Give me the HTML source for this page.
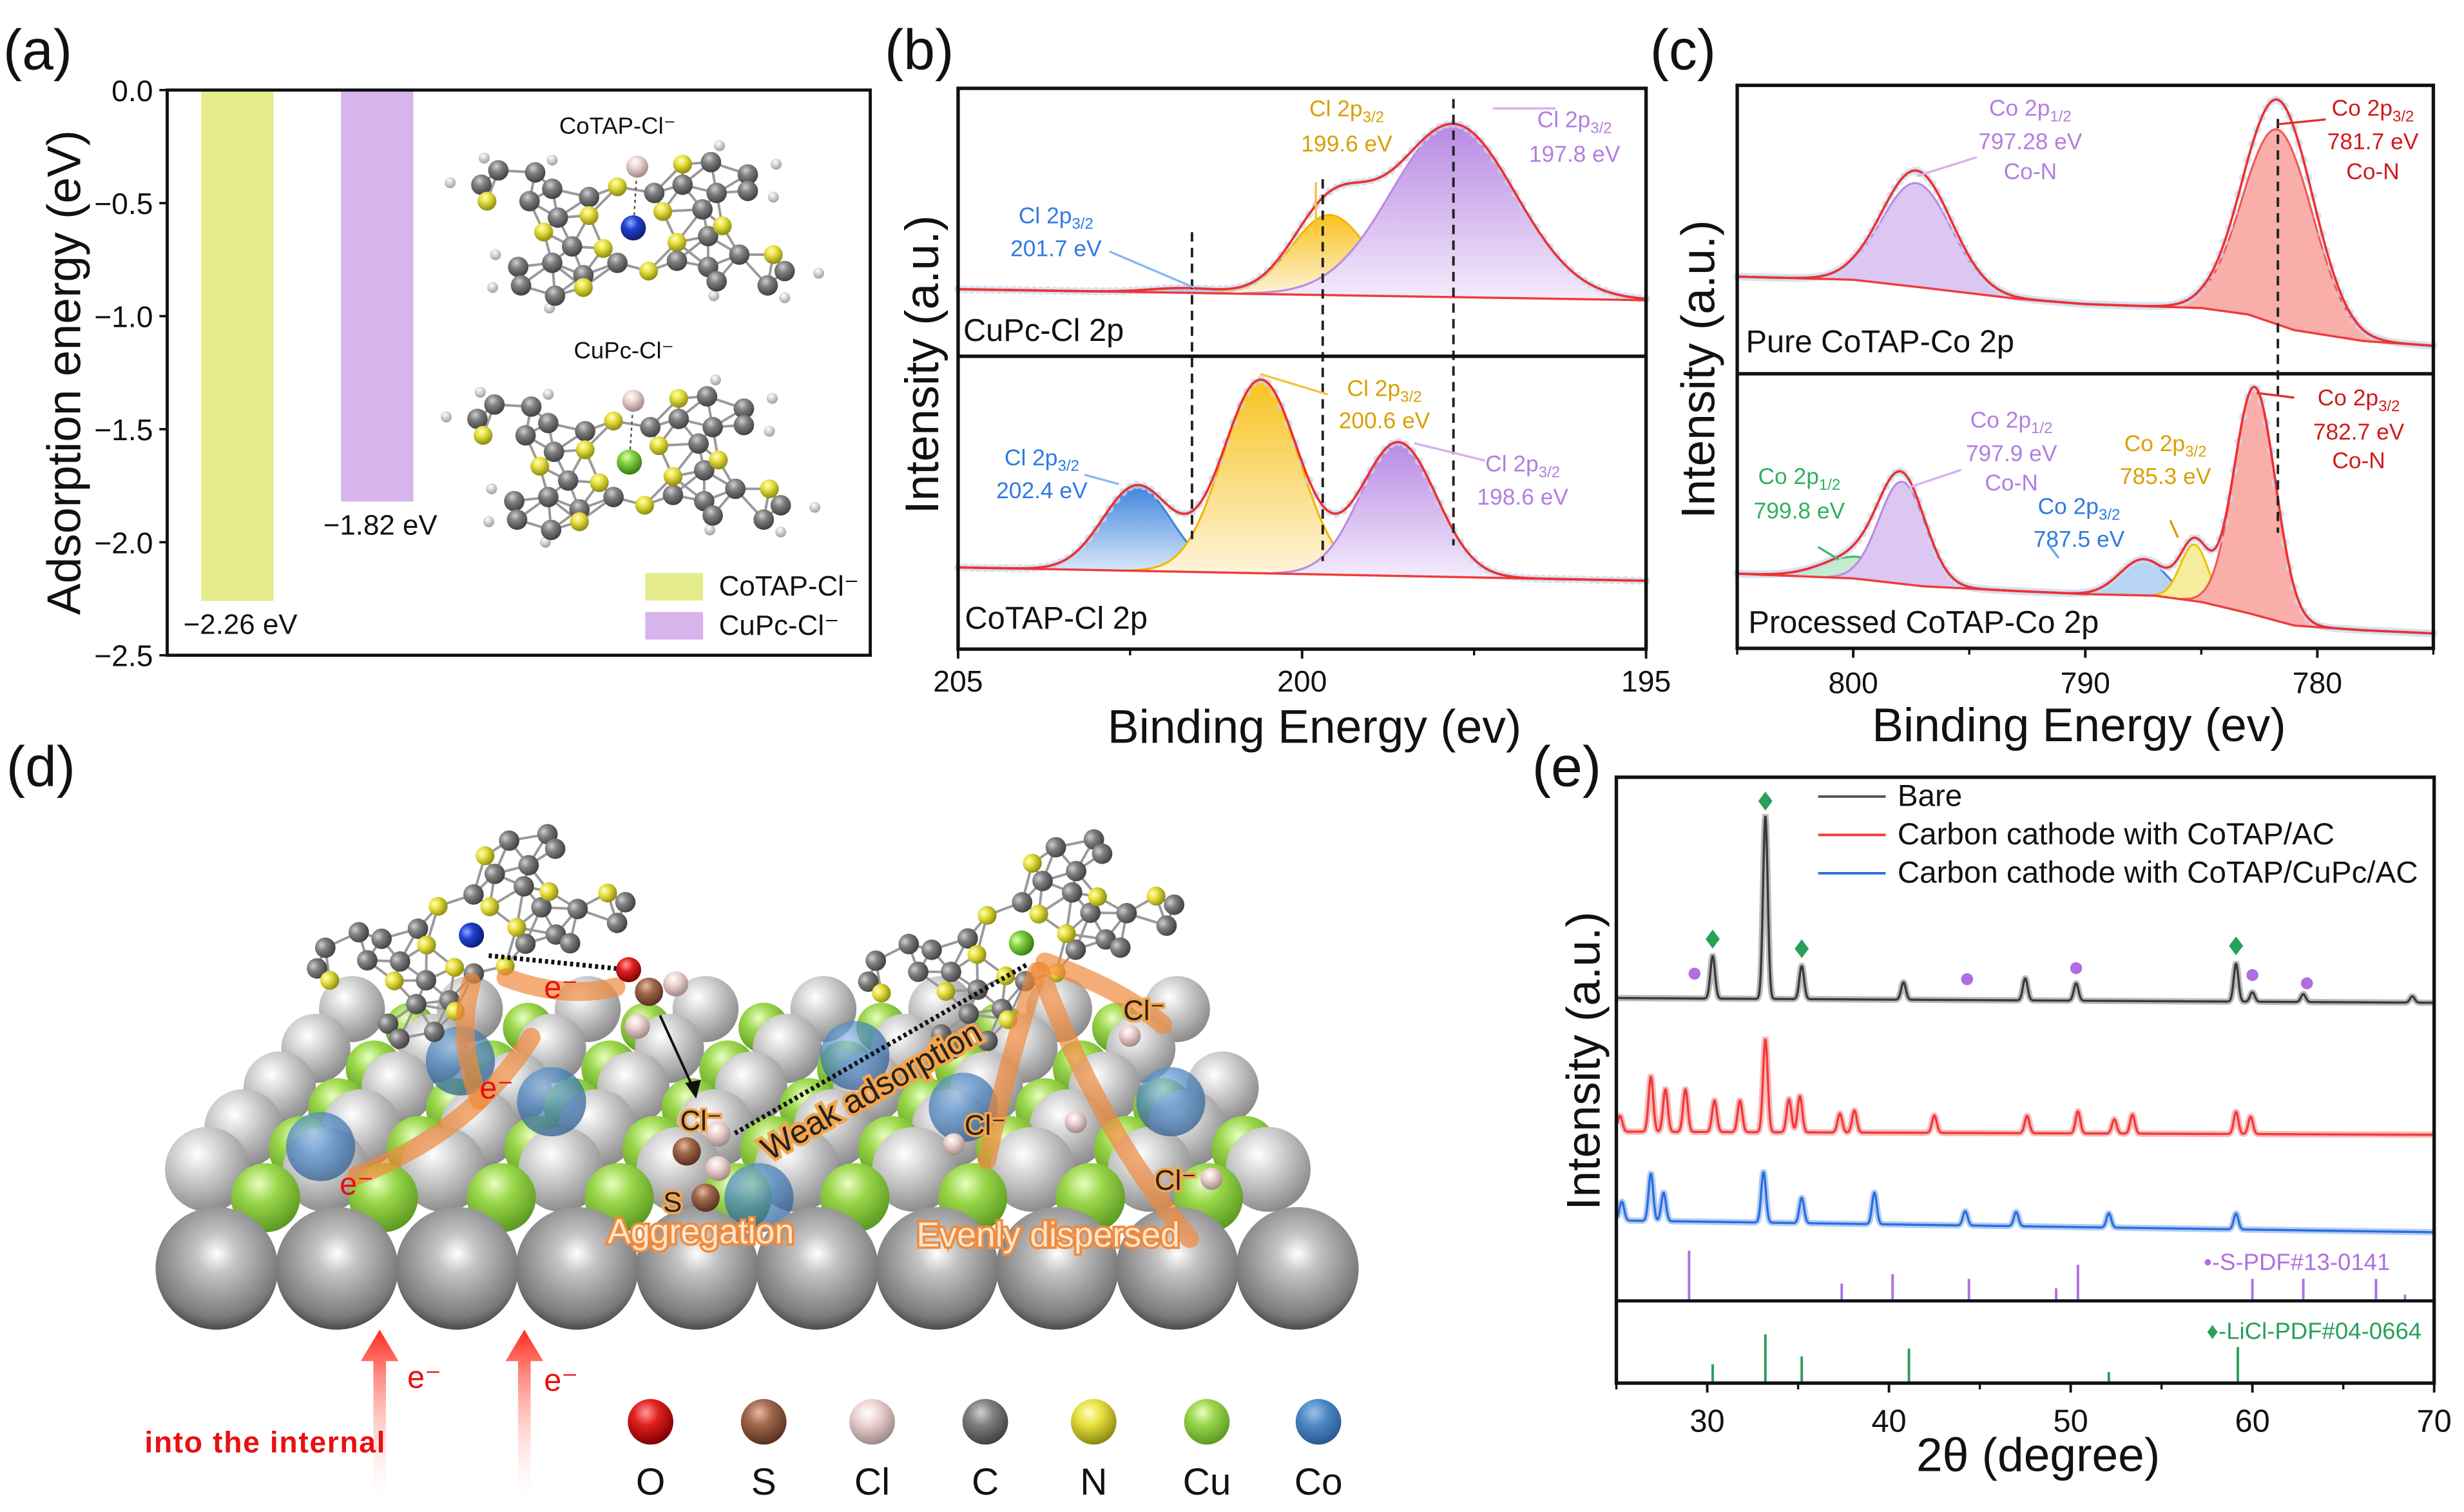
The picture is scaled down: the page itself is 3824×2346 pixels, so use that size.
<!DOCTYPE html>
<html><head><meta charset="utf-8">
<style>
html,body{margin:0;padding:0;background:#fff;}
svg{display:block;font-family:"Liberation Sans",Arial,sans-serif;}
</style></head>
<body>
<svg id="fig" xmlns="http://www.w3.org/2000/svg" width="3824" height="2346" viewBox="0 0 1568 962" preserveAspectRatio="none">
<defs>
<radialGradient id="sGray" cx="0.38" cy="0.32" r="0.7"><stop offset="0" stop-color="#ffffff"/><stop offset="0.35" stop-color="#d6d6d6"/><stop offset="1" stop-color="#8a8a8a"/></radialGradient>
<radialGradient id="sGrayBig" cx="0.5" cy="0.38" r="0.65"><stop offset="0" stop-color="#ffffff"/><stop offset="0.25" stop-color="#c4c4c4"/><stop offset="0.8" stop-color="#7a7a7a"/><stop offset="1" stop-color="#3c3c3c"/></radialGradient>
<radialGradient id="sGreen" cx="0.4" cy="0.3" r="0.7"><stop offset="0" stop-color="#e8ffc0"/><stop offset="0.4" stop-color="#9ad64a"/><stop offset="1" stop-color="#5c9a22"/></radialGradient>
<radialGradient id="sBlue" cx="0.4" cy="0.3" r="0.7"><stop offset="0" stop-color="#9cc3ea"/><stop offset="0.45" stop-color="#4a86c4"/><stop offset="1" stop-color="#2a5a90"/></radialGradient>
<radialGradient id="sRed" cx="0.4" cy="0.3" r="0.7"><stop offset="0" stop-color="#ff9a9a"/><stop offset="0.4" stop-color="#e02020"/><stop offset="1" stop-color="#800000"/></radialGradient>
<radialGradient id="sBrown" cx="0.4" cy="0.3" r="0.7"><stop offset="0" stop-color="#e8b8a0"/><stop offset="0.4" stop-color="#a0684c"/><stop offset="1" stop-color="#5a3020"/></radialGradient>
<radialGradient id="sPink" cx="0.4" cy="0.3" r="0.7"><stop offset="0" stop-color="#ffffff"/><stop offset="0.4" stop-color="#ecd2d0"/><stop offset="1" stop-color="#a08888"/></radialGradient>
<radialGradient id="sC" cx="0.4" cy="0.3" r="0.7"><stop offset="0" stop-color="#d0d0d0"/><stop offset="0.4" stop-color="#808080"/><stop offset="1" stop-color="#404040"/></radialGradient>
<radialGradient id="sYellow" cx="0.4" cy="0.3" r="0.7"><stop offset="0" stop-color="#ffffc0"/><stop offset="0.4" stop-color="#e8e040"/><stop offset="1" stop-color="#8a8a10"/></radialGradient>
<radialGradient id="sH" cx="0.4" cy="0.3" r="0.7"><stop offset="0" stop-color="#ffffff"/><stop offset="1" stop-color="#a0a0a0"/></radialGradient>
<radialGradient id="sCu" cx="0.4" cy="0.3" r="0.7"><stop offset="0" stop-color="#e0ffb0"/><stop offset="0.4" stop-color="#80d040"/><stop offset="1" stop-color="#3a7a10"/></radialGradient>
<radialGradient id="sCo" cx="0.4" cy="0.3" r="0.7"><stop offset="0" stop-color="#90a8ff"/><stop offset="0.4" stop-color="#2040d0"/><stop offset="1" stop-color="#101a70"/></radialGradient>
<linearGradient id="fPurple" x1="0" y1="0" x2="0" y2="1"><stop offset="0" stop-color="#b889e4"/><stop offset="1" stop-color="#f4ecfb"/></linearGradient>
<linearGradient id="fYellow" x1="0" y1="0" x2="0" y2="1"><stop offset="0" stop-color="#f8c320"/><stop offset="1" stop-color="#fff4dc"/></linearGradient>
<linearGradient id="fBlue" x1="0" y1="0" x2="0" y2="1"><stop offset="0" stop-color="#3f85dc"/><stop offset="1" stop-color="#dbe9fa"/></linearGradient>
<linearGradient id="redArrow" x1="0" y1="0" x2="0" y2="1"><stop offset="0" stop-color="#ff2a1a"/><stop offset="1" stop-color="#ffffff" stop-opacity="0"/></linearGradient>
</defs>
</svg>
<script>
const NS='http://www.w3.org/2000/svg';
const svg=document.getElementById('fig');
function mk(tag,attrs,parent){const e=document.createElementNS(NS,tag);for(const k in attrs)e.setAttribute(k,attrs[k]);(parent||svg).appendChild(e);return e;}
function txt(s,attrs,parent){const e=mk('text',attrs,parent);e.textContent=s;return e;}
function annot(x,y,main,sub,color,size,parent){
  const t=mk('text',{x:x,y:y,'font-size':size,fill:color,'text-anchor':'middle'},parent);
  const a=mk('tspan',{},t);a.textContent=main;
  if(sub){const b=mk('tspan',{'font-size':size*0.68,dy:size*0.25},t);b.textContent=sub;}
  return t;
}

/* ================= PANEL A DATA ================= */
const aCategories=['CoTAP-Cl⁻','CuPc-Cl⁻'];
const aValues=[-2.26,-1.82];
const aValueLabels=['−2.26 eV','−1.82 eV'];
const aTicks=[0,-0.5,-1,-1.5,-2,-2.5];
const aTickLabels=['0.0','−0.5','−1.0','−1.5','−2.0','−2.5'];
const aColors=['#e4ec8c','#d7b4ec'];

/* ================= PANEL B DATA ================= */
const bTicks=[205,200,195];
const bUpperCenters=[201.7,199.6,197.8];
const bUpperHeights=[3,51,110];
const bUpperWidths=[0.5,0.55,0.9];
const bUpperBaseline=[16,9];
const bLowerCenters=[202.4,200.6,198.6];
const bLowerHeights=[54,123,85];
const bLowerWidths=[0.5,0.55,0.55];
const bLowerBaseline=[19,10.5];

/* ================= PANEL C DATA ================= */
const cTicks=[800,790,780];
const cUpperBaseE=[805,800,797,793,790,785,783,781,778,775];
const cUpperBaseI=[54,52,47,40,36.5,34,30,20,13,10];
const cUpperCenters=[797.28,781.7];
const cUpperHeights=[66,124];
const cUpperFitHeights=[74,143];
const cUpperWidths=[1.5,1.5];
const cLowerBaseE=[805,800,797,793,790,787,785,783,781,778,775];
const cLowerBaseI=[45,42,37,34,32,31,27,20,12,9,7];
const cLowerCenters=[799.8,797.9,787.5,785.3,782.7];
const cLowerHeights=[14,65,23,36,145];
const cLowerWidths=[1.5,1.0,1.0,0.6,0.9];

/* ================= PANEL E DATA ================= */
const eTicks=[30,40,50,60,70];
const eLegend=['Bare','Carbon cathode with CoTAP/AC','Carbon cathode with CoTAP/CuPc/AC'];
const bareBaseline=[265,262];
const bareCenters=[30.3,33.2,35.2,40.8,47.5,50.3,59.1,60.0,62.8,68.8];
const bareHeights=[27,116,21,11,14,11,24,6,5,4];
const redBaseline=[180,178];
const redCenters=[25.2,26.9,27.7,28.8,30.4,31.8,33.2,34.5,35.1,37.3,38.1,42.5,47.6,50.4,52.4,53.4,59.1,59.9];
const redHeights=[10,35,27,27,20,20,59,21,23,12,14,11,11,14,9,12,14,11];
const blueBaseline=[123.5,116];
const blueCenters=[25.3,26.9,27.6,33.1,35.2,39.2,44.2,47.0,52.1,59.1];
const blueHeights=[12,30,18,32,16,20,9,9,9,10];
const sPdfPos=[29,37.4,40.2,44.4,49.2,50.4,60,62.8,66.8,68.4];
const sPdfHeights=[32,11,17,14,8,23,14,14,14,4];
const liclPos=[30.3,33.2,35.2,41.1,52.1,59.2];
const liclHeights=[12,31,17,22,7,23];
const diamondPos=[30.3,33.2,35.2,59.1];
const diamondI=[302.5,390.3,296.4,298.2];
const dotPos=[29.3,44.3,50.3,60,63];
const dotI=[280.5,277,284,279.6,274.4];

const gauss=(x,c,s,h)=>h*Math.exp(-((x-c)*(x-c))/(2*s*s));
function interp(xs,ys,x){
  for(let i=0;i<xs.length-1;i++){const a=xs[i],b=xs[i+1];if((x<=a&&x>=b)||(x>=a&&x<=b)){const t=(x-a)/(b-a);return ys[i]+t*(ys[i+1]-ys[i]);}}
  return ys[ys.length-1];
}

/* panel labels */
const lbls=[['(a)',2,44],['(b)',563,44],['(c)',1050,44],['(d)',4,500],['(e)',975,500]];
for(const l of lbls){const t=txt(l[0],{x:l[1],y:l[2],'font-size':36,fill:'#111'});

}

/* ================= PANEL A ================= */
const gA=mk('g',{});


const aTop=57.3,aBot=416.9,aL=106.4,aR=553.8;
const yA=v=>aTop+(0-v)/2.5*(aBot-aTop);
const xA=i=>151+i*89;
aValues.forEach((v,i)=>{
  const r=mk('rect',{x:xA(i)-23,y:yA(0),width:46,height:yA(v)-yA(0),fill:aColors[i]},gA);
  
  
  const t=txt(aValueLabels[i],{x:xA(i)+2,y:yA(v)+21,'font-size':18,'text-anchor':'middle',fill:'#111'},gA);
  
  
});
aTicks.forEach((v,i)=>{
  mk('line',{x1:aL,x2:aL-5,y1:yA(v),y2:yA(v),stroke:'#111','stroke-width':1.5},gA);
  const t=txt(aTickLabels[i],{x:97.4,y:yA(v)+7,'font-size':19,'text-anchor':'end',fill:'#111'},gA);
  
  
});
const frA=mk('rect',{x:aL,y:aTop,width:aR-aL,height:aBot-aTop,fill:'none',stroke:'#111','stroke-width':2},gA);


const ytA=txt('Adsorption energy (eV)',{x:0,y:0,'font-size':30,'text-anchor':'middle',fill:'#111',transform:'translate(51,237) rotate(-90)'},gA);


aCategories.forEach((c,i)=>{
  const r=mk('rect',{x:410.6,y:364.6+i*24.8,width:36.8,height:17.5,fill:aColors[i]},gA);
  
  
  const t=txt(c,{x:457.5,y:379+i*25,'font-size':18,fill:'#111'},gA);
  
  
});
const ml1=txt('CoTAP-Cl⁻',{x:393,y:85,'font-size':15,'text-anchor':'middle',fill:'#111'},gA);


const ml2=txt('CuPc-Cl⁻',{x:397,y:228,'font-size':15,'text-anchor':'middle',fill:'#111'},gA);



const molC=[[880,320],[945,325],[850,355],[975,365],[935,395],[1040,385],[985,435],[1010,505],[975,545],[915,555],[1030,575],[920,600],[980,625],[1090,545],[1195,540],[1250,555],[1305,525],[1355,600],[1385,565],[1265,590],[1240,415],[1265,375],[1155,375],[1205,355],[1255,300],[1320,330],[1320,370],[1250,480]];
const molN=[[1090,360],[1205,305],[860,395],[1040,430],[960,470],[1170,420],[1275,455],[1065,510],[1195,495],[1145,565],[1365,525],[1030,605]];
const molH=[[795,350],[855,290],[975,295],[1270,260],[1370,305],[1365,385],[875,525],[870,605],[970,655],[1260,625],[1385,630],[1445,570]];
function drawMol(cx,cy,sc,rot,metalFill,withCl,withH,parent,name){
  const g=mk('g',{transform:`translate(${cx},${cy}) rotate(${rot}) scale(${sc})`},parent);
  
  
  const P=p=>[(p[0]-1118)*0.3608,(p[1]-460)*0.2615];
  const all=molC.concat(molN).map(P);
  for(let i=0;i<all.length;i++)for(let j=i+1;j<all.length;j++){const dx=all[i][0]-all[j][0],dy=all[i][1]-all[j][1];if(dx*dx+dy*dy<27*27)mk('line',{x1:all[i][0],y1:all[i][1],x2:all[j][0],y2:all[j][1],stroke:'#999','stroke-width':1.6},g);}
  if(withH) molH.map(P).forEach(p=>mk('circle',{cx:p[0],cy:p[1],r:3.5,fill:'url(#sH)'},g));
  molC.map(P).forEach(p=>mk('circle',{cx:p[0],cy:p[1],r:6.5,fill:'url(#sC)'},g));
  molN.map(P).forEach(p=>mk('circle',{cx:p[0],cy:p[1],r:6,fill:'url(#sYellow)'},g));
  if(withCl){mk('line',{x1:0,y1:0,x2:2.5,y2:-39,stroke:'#555','stroke-width':1,'stroke-dasharray':'2,2'},g);mk('circle',{cx:2.5,cy:-39,r:7,fill:'url(#sPink)'},g);}
  mk('circle',{cx:0,cy:0,r:8,fill:metalFill},g);
  return g;
}
drawMol(403,145,1,0,'url(#sCo)',true,true,gA,'cotap-cl-molecule');
drawMol(400.5,294,1,0,'url(#sCu)',true,true,gA,'cupc-cl-molecule');

/* ================= XPS generic ================= */
function xpsPanel(g,xS,yS,grid,baseFn,centers,heights,widths,fitHeights,fills,strokes,dotColor){
  const comp=(e,i)=>gauss(e,centers[i],widths[i],heights[i]);
  const env=e=>{let s=baseFn(e);for(let i=0;i<centers.length;i++)s+=gauss(e,centers[i],widths[i],fitHeights?fitHeights[i]:heights[i]);return s;};
  centers.forEach((c,i)=>{
    let top=[],bot=[];
    for(const e of grid){const v=comp(e,i);if(v>0.3){top.push(xS(e)+','+yS(baseFn(e)+v));bot.unshift(xS(e)+','+yS(baseFn(e)));}}
    const p=mk('polygon',{points:top.concat(bot).join(' '),fill:fills[i],stroke:'none'},g);
    
    
    const l=mk('polyline',{points:top.join(' '),fill:'none',stroke:strokes[i],'stroke-width':1.3},g);
    
    
  });
  const dots=mk('g',{},g);
  
  
  for(let k=0;k<grid.length;k+=4){const e=grid[k];mk('circle',{cx:xS(e),cy:yS(env(e)),r:2.6,fill:dotColor,opacity:0.75},dots);}
  const bl=mk('polyline',{points:grid.map(e=>xS(e)+','+yS(baseFn(e))).join(' '),fill:'none',stroke:'#ef3b3b','stroke-width':1.4},g);
  
  
  const fl=mk('polyline',{points:grid.map(e=>xS(e)+','+yS(env(e))).join(' '),fill:'none',stroke:'#ef3030','stroke-width':1.5},g);
  
  
}
const colPurpleS='#b98be2',colYellowS='#f2b700',colBlueS='#3f86dc';

/* ================= PANEL B ================= */
const gB=mk('g',{});


const bL=609.7,bR=1047.5,bTop=56.2,bSplit=226.7,bBot=413;
const xB=e=>bL+(205-e)/10*(bR-bL);
const gridB=[];for(let e=205;e>=195-1e-9;e-=0.025)gridB.push(e);
xpsPanel(gB,xB,I=>200-I,gridB,e=>bUpperBaseline[0]+(205-e)/10*(bUpperBaseline[1]-bUpperBaseline[0]),bUpperCenters,bUpperHeights,bUpperWidths,null,['url(#fBlue)','url(#fYellow)','url(#fPurple)'],[colBlueS,colYellowS,colPurpleS],'#c6d8ee');
xpsPanel(gB,xB,I=>380-I,gridB,e=>bLowerBaseline[0]+(205-e)/10*(bLowerBaseline[1]-bLowerBaseline[0]),bLowerCenters,bLowerHeights,bLowerWidths,null,['url(#fBlue)','url(#fYellow)','url(#fPurple)'],[colBlueS,colYellowS,colPurpleS],'#c6d8ee');
[[201.6,147.7,343],[199.7,114,357],[197.8,63,347]].forEach(d=>{
  const l=mk('line',{x1:xB(d[0]),x2:xB(d[0]),y1:d[1],y2:d[2],stroke:'#222','stroke-width':1.6,'stroke-dasharray':'6,4'},gB);
  
  
});
const frB=mk('rect',{x:bL,y:bTop,width:bR-bL,height:bBot-bTop,fill:'none',stroke:'#111','stroke-width':2.2},gB);


mk('line',{x1:bL,x2:bR,y1:bSplit,y2:bSplit,stroke:'#111','stroke-width':2.2},gB);
bTicks.forEach(v=>{
  mk('line',{x1:xB(v),x2:xB(v),y1:bBot,y2:bBot+6,stroke:'#111','stroke-width':1.6},gB);
  const t=txt(String(v),{x:xB(v),y:440,'font-size':19,'text-anchor':'middle',fill:'#111'},gB);
  
  
});
[202.5,197.5].forEach(v=>mk('line',{x1:xB(v),x2:xB(v),y1:bBot,y2:bBot+4,stroke:'#111','stroke-width':1.4},gB));
const xtB=txt('Binding Energy (ev)',{x:836.5,y:472.5,'font-size':30,'text-anchor':'middle',fill:'#111'},gB);


const ytB=txt('Intensity (a.u.)',{x:0,y:0,'font-size':30,'text-anchor':'middle',fill:'#111',transform:'translate(597,232) rotate(-90)'},gB);


const sbu=txt('CuPc-Cl 2p',{x:613,y:217,'font-size':20,fill:'#111'},gB);


const sbl=txt('CoTAP-Cl 2p',{x:614,y:400,'font-size':20,fill:'#111'},gB);


const bAnn=[[857,74,96.4,'199.6 eV','#d9a000'],[1002,81,103,'197.8 eV','#b27ee0'],[672,142,163,'201.7 eV','#2f7ae0'],[881,252,272.5,'200.6 eV','#d9a000'],[969,300,321,'198.6 eV','#b27ee0'],[663,296,317,'202.4 eV','#2f7ae0']];
bAnn.forEach(a=>{
  const t1=annot(a[0],a[1],'Cl 2p','3/2',a[4],14.5,gB);
  
  
  const t2=txt(a[3],{x:a[0],y:a[2],'font-size':14.5,'text-anchor':'middle',fill:a[4]},gB);
  
  
});
const bArrows=[[xB(199.8),150,xB(199.8),116,'#f5c43a'],[950,69,990,69,'#d6b0f0'],[760,183,706,160,'#8ab8ee'],[802,238,845,251,'#f5c43a'],[900,282,945,293,'#d6b0f0'],[712,308,690,302,'#8ab8ee']];
bArrows.forEach(a=>{
  const l=mk('line',{x1:a[0],y1:a[1],x2:a[2],y2:a[3],stroke:a[4],'stroke-width':1.4},gB);
  
  
});

/* ================= PANEL C ================= */
const gC=mk('g',{});


const cL=1105.5,cR=1548.5,cTop=54.3,cSplit=237.8,cBot=412.5;
const xC=e=>cL+(805-e)/30*(cR-cL);
const gridC=[];for(let e=805;e>=775-1e-9;e-=0.05)gridC.push(e);
xpsPanel(gC,xC,I=>230-I,gridC,e=>interp(cUpperBaseE,cUpperBaseI,e),cUpperCenters,cUpperHeights,cUpperWidths,cUpperFitHeights,['#dcc6f2','#f9aeaa'],['#b98be2','#f05a5a'],'#c9dbef');
xpsPanel(gC,xC,I=>410-I,gridC,e=>interp(cLowerBaseE,cLowerBaseI,e),cLowerCenters,cLowerHeights,cLowerWidths,null,['#c4ecd0','#dcc6f2','#b8d4f3','#f6ec9e','#f9aeaa'],['#3cba6a','#b98be2','#3f86dc','#f2c200','#f05a5a'],'#c9dbef');
const dc=mk('line',{x1:xC(781.7),x2:xC(781.7),y1:75.6,y2:339,stroke:'#222','stroke-width':1.6,'stroke-dasharray':'6,4'},gC);


const frC=mk('rect',{x:cL,y:cTop,width:cR-cL,height:cBot-cTop,fill:'none',stroke:'#111','stroke-width':2.2},gC);


mk('line',{x1:cL,x2:cR,y1:cSplit,y2:cSplit,stroke:'#111','stroke-width':2.2},gC);
cTicks.forEach(v=>{
  mk('line',{x1:xC(v),x2:xC(v),y1:cBot,y2:cBot+6,stroke:'#111','stroke-width':1.6},gC);
  const t=txt(String(v),{x:xC(v),y:441,'font-size':19,'text-anchor':'middle',fill:'#111'},gC);
  
  
});
[805,795,785,775].forEach(v=>mk('line',{x1:xC(v),x2:xC(v),y1:cBot,y2:cBot+4,stroke:'#111','stroke-width':1.4},gC));
const xtC=txt('Binding Energy (ev)',{x:1323,y:471.5,'font-size':30,'text-anchor':'middle',fill:'#111'},gC);


const ytC=txt('Intensity (a.u.)',{x:0,y:0,'font-size':30,'text-anchor':'middle',fill:'#111',transform:'translate(1091,235) rotate(-90)'},gC);


const scu=txt('Pure CoTAP-Co 2p',{x:1111,y:224,'font-size':20,fill:'#111'},gC);


const scl=txt('Processed CoTAP-Co 2p',{x:1112.6,y:402.7,'font-size':20,fill:'#111'},gC);


const cAnn=[[1292,68.7,'1/2',['797.28 eV','Co-N'],90,109,'#b27ee0'],[1510,68.7,'3/2',['781.7 eV','Co-N'],90,109,'#d11a1a'],[1280,267,'1/2',['797.9 eV','Co-N'],288.5,307,'#b27ee0'],[1145,303,'1/2',['799.8 eV'],325,0,'#2fb060'],[1378,282,'3/2',['785.3 eV'],303,0,'#d9a000'],[1323,322,'3/2',['787.5 eV'],343,0,'#2f7ae0'],[1501,253,'3/2',['782.7 eV','Co-N'],274.7,293,'#d11a1a']];
cAnn.forEach(a=>{
  const t1=annot(a[0],a[1]+5,'Co 2p',a[2],a[6],14.5,gC);
  
  
  a[3].forEach((s,k)=>{const t=txt(s,{x:a[0],y:(k?a[5]:a[4])+5,'font-size':14.5,'text-anchor':'middle',fill:a[6]},gC);
  
  });
});
const cArrows=[[1220,112,1258,100,'#d6b0f0'],[1450,79,1480,76,'#d33'],[1215,310,1248,299,'#d6b0f0'],[1170,356,1157,348,'#3cba6a'],[1310,355,1304,347,'#6aa6ee'],[1386,342,1381,331,'#d9a000'],[1436,250,1460,253,'#d33']];
cArrows.forEach(a=>{
  const l=mk('line',{x1:a[0],y1:a[1],x2:a[2],y2:a[3],stroke:a[4],'stroke-width':1.4},gC);
  
  
});

/* ================= PANEL E ================= */
const gE=mk('g',{});


const eL=1028.6,eR=1549,eTop=494.5,eSplit=827.7,eBot=880;
const xE=t=>eL+(t-25)/45*(eR-eL);
const yE=I=>900-I;
function xrdLine(base,centers,heights,color,name){
  const pts=[];
  for(let t=25.05;t<=69.95;t+=0.02){let v=base[0]+(t-25)/45*(base[1]-base[0]);for(let i=0;i<centers.length;i++)v+=gauss(t,centers[i],0.13,heights[i]);pts.push(xE(t).toFixed(2)+','+yE(v).toFixed(2));}
  const band=mk('polyline',{points:pts.join(' '),fill:'none',stroke:color,'stroke-width':4,opacity:0.35},gE);
  
  
  const p=mk('polyline',{points:pts.join(' '),fill:'none',stroke:color,'stroke-width':1.4},gE);
  
  
}
xrdLine(bareBaseline,bareCenters,bareHeights,'#3a3a3a','bare-pattern');
xrdLine(redBaseline,redCenters,redHeights,'#f03a3a','cotap-ac-pattern');
xrdLine(blueBaseline,blueCenters,blueHeights,'#2a6ee0','cotap-cupc-ac-pattern');
diamondPos.forEach((t,i)=>{
  const x=xE(t),y=yE(diamondI[i]);
  const d=mk('polygon',{points:`${x},${y-6} ${x+4.5},${y} ${x},${y+6} ${x-4.5},${y}`,fill:'#27a05a'},gE);
  
  
});
dotPos.forEach((t,i)=>{
  const c=mk('circle',{cx:xE(t),cy:yE(dotI[i]),r:3.8,fill:'#b06ee0'},gE);
  
  
});
sPdfPos.forEach((t,i)=>{
  const l=mk('line',{x1:xE(t),x2:xE(t),y1:eSplit,y2:eSplit-sPdfHeights[i],stroke:'#b06ee0','stroke-width':1.6},gE);
  
  
});
liclPos.forEach((t,i)=>{
  const l=mk('line',{x1:xE(t),x2:xE(t),y1:eBot,y2:eBot-liclHeights[i],stroke:'#27a05a','stroke-width':1.6},gE);
  
  
});
const rs1=txt('•-S-PDF#13-0141',{x:1521,y:808,'font-size':15,'text-anchor':'end',fill:'#b06ee0'},gE);


const rs2=txt('♦-LiCl-PDF#04-0664',{x:1541,y:852,'font-size':15,'text-anchor':'end',fill:'#27a05a'},gE);


const frE=mk('rect',{x:eL,y:eTop,width:eR-eL,height:eBot-eTop,fill:'none',stroke:'#111','stroke-width':2.2},gE);


mk('line',{x1:eL,x2:eR,y1:eSplit,y2:eSplit,stroke:'#111','stroke-width':2},gE);
eTicks.forEach(v=>{
  mk('line',{x1:xE(v),x2:xE(v),y1:eBot,y2:eBot+6,stroke:'#111','stroke-width':1.6},gE);
  const t=txt(String(v),{x:xE(v),y:911,'font-size':20,'text-anchor':'middle',fill:'#111'},gE);
  
  
});
[25,35,45,55,65].forEach(v=>mk('line',{x1:xE(v),x2:xE(v),y1:eBot,y2:eBot+4,stroke:'#111','stroke-width':1.4},gE));
const xtE=txt('2θ (degree)',{x:1297,y:936,'font-size':30,'text-anchor':'middle',fill:'#111'},gE);


const ytE=txt('Intensity (a.u.)',{x:0,y:0,'font-size':30,'text-anchor':'middle',fill:'#111',transform:'translate(1018,675) rotate(-90)'},gE);


const legCols=['#555','#f03a3a','#2a6ee0'];
eLegend.forEach((s,i)=>{
  const l=mk('line',{x1:1157,x2:1200,y1:512.8+i*24.4-6,y2:512.8+i*24.4-6,stroke:legCols[i],'stroke-width':1.6},gE);
  
  
  const t=txt(s,{x:1207.5,y:512.8+i*24.4,'font-size':19.5,fill:'#111'},gE);
  
  
});

/* ================= PANEL D ================= */
const gD=mk('g',{});


const surf=mk('g',{},gD);


const rowsG=[[642,224,748,21],[667,201,779,22],[692,178,802,23],[718,155,823,25],[744,132,845,27]];
const rowsGr=[[654,16],[680,18],[705,19],[731,21],[762,22]];
rowsG.forEach((r,k)=>{
  for(let x=r[1];x<=r[2]+1;x+=75)mk('circle',{cx:x,cy:r[0],r:r[3],fill:'url(#sGray)'},surf);
  for(let x=r[1]+37;x<=r[2]-20;x+=75)mk('circle',{cx:x,cy:rowsGr[k][0],r:rowsGr[k][1],fill:'url(#sGreen)'},surf);
});
[[293,675],[351,701],[204,729.5],[544,671.6],[613,704.5],[745,701],[483,762]].forEach(p=>mk('circle',{cx:p[0],cy:p[1],r:22,fill:'url(#sBlue)',opacity:0.72},surf));
for(let i=0;i<10;i++)mk('circle',{cx:138+i*76.4,cy:807,r:39,fill:'url(#sGrayBig)'},surf);
drawMol(300,595,1.0,-28,'url(#sCo)',false,false,gD,'cotap-molecule-on-surface');
drawMol(650,600,1.0,-30,'url(#sCu)',false,false,gD,'cupc-molecule-on-surface');
const arr=[['M227,748 Q300,720 338,660'],['M305,700 Q290,660 300,625'],['M322,622 Q360,636 392,628'],['M660,618 Q640,680 628,738'],['M662,618 Q700,720 757,788'],['M665,612 Q715,630 740,652']];
arr.forEach(a=>{
  const p=mk('path',{d:a[0],fill:'none',stroke:'#f08a3c','stroke-width':12,opacity:0.7,'stroke-linecap':'round'},gD);
  
  
});
const dl1=mk('line',{x1:311,y1:608,x2:400,y2:617,stroke:'#111','stroke-width':3,'stroke-dasharray':'2,2'},gD);


const dl2=mk('line',{x1:653,y1:614,x2:466,y2:722,stroke:'#111','stroke-width':3,'stroke-dasharray':'2,2'},gD);


const ba=mk('line',{x1:420,y1:646,x2:441,y2:692,stroke:'#111','stroke-width':1.6},gD);


mk('polygon',{points:'443,699 436,689 446,687',fill:'#111'},gD);
[['sRed',400,617,8],['sBrown',413,631,9],['sPink',430,626,8],['sPink',405.6,653,8],['sBrown',437,732.6,9],['sPink',457,721.6,8],['sPink',457,743.5,8],['sBrown',449,762,9],['sPink',719,659,7],['sPink',684.6,714,7],['sPink',607,728,7],['sPink',771,750,7]].forEach(a=>{
  const c=mk('circle',{cx:a[1],cy:a[2],r:a[3],fill:'url(#'+a[0]+')'},gD);
  
  
});
const dTexts=[['Aggregation',446,791,22],['Evenly dispersed',667,793,22]];
dTexts.forEach(d=>{
  const t=txt(d[0],{x:d[1],y:d[2],'font-size':d[3],'text-anchor':'middle',fill:'#fde6cf',stroke:'#f08a3c','stroke-width':3,'paint-order':'stroke'},gD);
  
  
});
const wa=txt('Weak adsorption',{x:0,y:0,'font-size':21,'text-anchor':'middle',fill:'#222',stroke:'#f5a54a','stroke-width':4,'paint-order':'stroke',transform:'translate(558,700) rotate(-29.6)'},gD);


[['Cl⁻',446,719],['Cl⁻',627,722],['Cl⁻',748,757],['Cl⁻',728,649],['S',428,771]].forEach(a=>{
  const t=txt(a[0],{x:a[1],y:a[2],'font-size':18,'text-anchor':'middle',fill:'#222',stroke:'#f5a54a','stroke-width':3,'paint-order':'stroke'},gD);
  
  
});
[['e⁻',357,635],['e⁻',316,699],['e⁻',227,760],['e⁻',270,883],['e⁻',357,885]].forEach(a=>{
  const t=txt(a[0],{x:a[1],y:a[2],'font-size':20,'text-anchor':'middle',fill:'#e81010'},gD);
  
  
});
[241.6,333.7].forEach(x=>{
  const p=mk('polygon',{points:`${x-4},960 ${x-4},866 ${x-12},866 ${x},846 ${x+12},866 ${x+4},866 ${x+4},960`,fill:'url(#redArrow)'},gD);
  
  
});
const iti=txt('into the internal',{x:92,y:924,'font-size':19,'font-weight':'bold',fill:'#e81010',textLength:153},gD);


const legD=[['O','sRed',414],['S','sBrown',486],['Cl','sPink',555],['C','sC',627],['N','sYellow',696],['Cu','sGreen',768],['Co','sBlue',839]];
legD.forEach(l=>{
  const c=mk('circle',{cx:l[2],cy:904.6,r:14.5,fill:'url(#'+l[1]+')'},gD);
  
  
  const t=txt(l[0],{x:l[2],y:951,'font-size':24,'text-anchor':'middle',fill:'#111'},gD);
  
  
});
</script>
</body></html>
